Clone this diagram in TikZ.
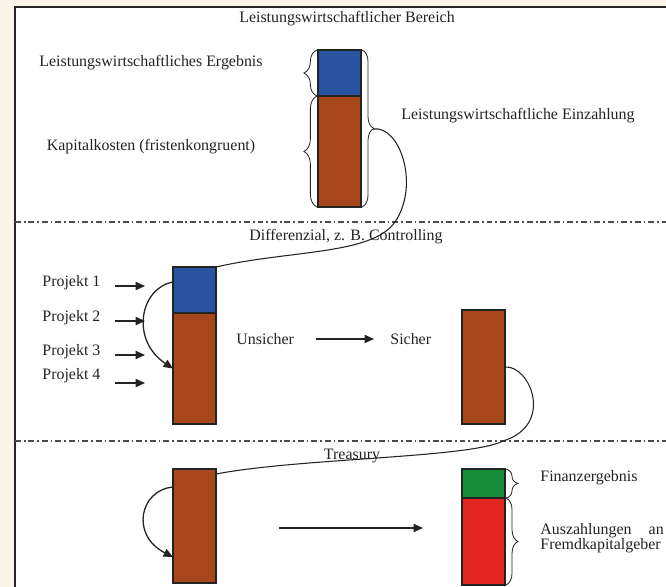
\documentclass[tikz,border=0pt]{standalone}
\usepackage{fontspec}
\setmainfont{Liberation Serif}
\usepackage{tikz}
\usetikzlibrary{arrows.meta, positioning, decorations.pathreplacing}
\definecolor{barblue}{RGB}{42, 84, 162}
\definecolor{barbrown}{RGB}{168, 70, 28}
\definecolor{bargreen}{RGB}{22, 142, 58}
\definecolor{barred}{RGB}{227, 38, 31}
\definecolor{slidecream}{RGB}{251, 245, 232}
\definecolor{inkgray}{RGB}{35, 35, 35}

\begin{document}
\begin{tikzpicture}[
    x=0.03cm, y=-0.03cm,
    every node/.style={font=\fontsize{13.6}{13}\selectfont, text=inkgray, inner sep=1pt},
    bar/.style={rectangle, draw=inkgray, line width=0.9pt, minimum width=1.29cm, inner sep=0pt, outer sep=0pt},
    curly/.style={decorate, decoration={brace, amplitude=#1, raise=1pt}, draw=inkgray, line width=0.7pt},
    curly/.default=10pt,
    sectline/.style={draw=black!70, line width=1.1pt, dash pattern=on 5pt off 2.5pt on 1.5pt off 2.5pt},
    flow/.style={draw=inkgray, line width=0.9pt},
    push/.style={-{Triangle[length=8pt, width=7pt]}, draw=inkgray, line width=1.1pt}
]

% slide and frame
\useasboundingbox[fill=slidecream] (0,0) rectangle (666,587);
\draw[fill=white, draw=black!85, line width=1.6pt] (15,7) rectangle (720,640);
\foreach \ypos in {222, 441} {
    \draw[sectline] (15,\ypos) -- (666,\ypos);
}

\node (bereich) at (347,19) {Leistungswirtschaftlicher Bereich};
\node (diff) at (346,237) {Differenzial, z. B. Controlling};
\node (treasury) at (352,456) {Treasury};

% Leistungswirtschaftlicher Bereich
\node[bar, fill=barblue, minimum height=1.38cm] (b1top) at (339.5,73) {};
\node[bar, fill=barbrown, minimum height=3.33cm, below=0pt of b1top] (b1bot) {};
\draw[curly=11pt] (b1top.south west) -- (b1top.north west);
\draw[curly=11pt] (b1bot.south west) -- (b1bot.north west);
\draw[curly] (b1top.north east) -- (b1bot.south east);
\node (ergebnis) at (151,63) {Leistungswirtschaftliches Ergebnis};
\node (kapkosten) at (151,147) {Kapitalkosten (fristenkongruent)};
\node[anchor=west] (einzahlung) at (400,116) {Leistungswirtschaftliche Einzahlung};
\coordinate (einz) at (373,129);

% Differenzial
\node[bar, fill=barblue, minimum height=1.38cm] (b2top) at (194.5,290) {};
\node[bar, fill=barbrown, minimum height=3.33cm, below=0pt of b2top] (b2bot) {};
\foreach \n/\ylab/\yarr in {1/283/286, 2/318/321, 3/352/355, 4/376/383} {
    \node[anchor=west] (proj\n) at (41,\ylab) {Projekt \n};
    \coordinate (arr\n) at (115,\yarr);
    \draw[push] (arr\n) -- ++(30,0);
}
\draw[flow, push] ([yshift=0.24cm]b2top.west) .. controls (140,288) and (130,340) .. (b2bot.west);
\draw[flow] (einz) .. controls (400,125) and (420,185) .. (395,222)
    .. controls (372,255) and (290,250) .. (b2top.north east);

\node[anchor=west] (unsicher) at (235,339) {Unsicher};
\node[anchor=west] (sicher) at (389,339) {Sicher};
\draw[push] ([xshift=0.62cm]unsicher.east) -- ([xshift=-0.45cm]sicher.west);
\node[bar, fill=barbrown, minimum height=3.42cm] (b3) at (483.5,367) {};

% Treasury
\node[bar, fill=barbrown, minimum height=3.42cm] (b4) at (194.5,526) {};
\draw[flow] (b3.east) .. controls (530,365) and (555,425) .. (503,441)
    .. controls (470,458) and (300,458) .. ([yshift=-0.15cm]b4.north east);
\draw[flow, push] ([yshift=1.17cm]b4.west) .. controls (140,490) and (130,535) .. ([yshift=-0.93cm]b4.west);

\coordinate (umstart) at (279,528);
\coordinate (umend) at (423,528);
\draw[push] (umstart) -- (umend);

\node[bar, fill=bargreen, minimum height=0.87cm] (b5top) at (483.5,483.5) {};
\node[bar, fill=barred, minimum height=2.61cm, below=0pt of b5top] (b5bot) {};
\draw[curly] (b5top.north east) -- (b5top.south east);
\draw[curly] (b5bot.north east) -- (b5bot.south east);
\node[anchor=west] (finanz) at (539,478) {Finanzergebnis};
\node[anchor=west, text width=3.7cm, align=left, font=\fontsize{13.6}{12.8}\selectfont] (auszahlung) at (539,538) {Auszahlungen\hfill an\\Fremdkapitalgeber};

\end{tikzpicture}
\end{document}
